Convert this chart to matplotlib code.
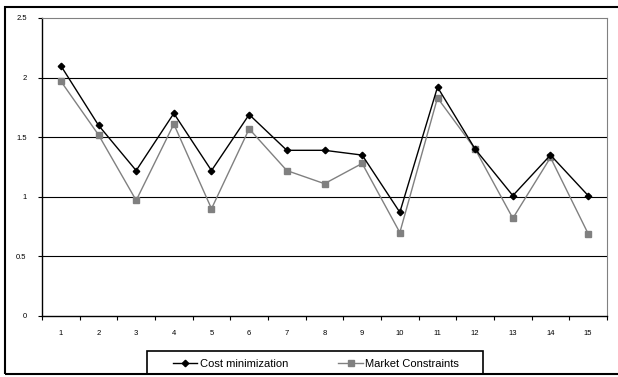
import matplotlib.pyplot as plt
from matplotlib.patches import Rectangle

# ---- Data ----------------------------------------------------------------
periods = list(range(1, 16))
cost_min = [2.10, 1.60, 1.22, 1.70, 1.22, 1.69, 1.39, 1.39, 1.35, 0.87,
            1.92, 1.40, 1.01, 1.35, 1.01]
market = [1.97, 1.52, 0.97, 1.61, 0.90, 1.57, 1.22, 1.11, 1.28, 0.70,
          1.83, 1.40, 0.82, 1.33, 0.69]
y_ticks = [0, 0.5, 1, 1.5, 2, 2.5]
y_labels = ["0", "0.5", "1", "1.5", "2", "2.5"]

plt.rcParams["font.family"] = ["Liberation Sans", "DejaVu Sans"]

W, H = 618, 377
fig = plt.figure(figsize=(W / 100, H / 100), dpi=100)
ax = fig.add_axes([42 / W, 1 - 316 / H, 565 / W, 298 / H])

# outer chart frame
fig.patches.append(Rectangle((5 / W, 3 / H), 1.0, 1 - 10 / H, transform=fig.transFigure,
                             fill=False, edgecolor="black", linewidth=1.5))

ax.plot(periods, cost_min, color="black", linewidth=1.0, marker="D",
        markersize=3.3, label="Cost minimization", zorder=4)
ax.plot(periods, market, color="#808080", linewidth=1.0, marker="s",
        markersize=3.8, label="Market Constraints", zorder=3)

ax.set_xlim(0.5, 15.5)
ax.set_ylim(0, 2.5)
ax.set_yticks(y_ticks)
ax.set_yticklabels(y_labels)
ax.set_xticks(periods)
ax.set_xticks([p + 0.5 for p in [0] + periods], minor=True)
ax.tick_params(axis="x", which="major", length=0, labelsize=5.5, pad=10)
ax.tick_params(axis="x", which="minor", length=3, direction="out", width=0.8)
ax.tick_params(axis="y", length=3, direction="out", labelsize=5.5, width=0.8, pad=8)

for y in y_ticks[1:-1]:
    ax.axhline(y, color="black", linewidth=0.8, zorder=1)

ax.spines["left"].set_linewidth(1.0)
ax.spines["bottom"].set_linewidth(1.0)
ax.spines["top"].set_color("#808080")
ax.spines["right"].set_color("#808080")

# legend box drawn separately so the inner spacing can be wider than tall
fig.patches.append(Rectangle((147 / W, 3 / H), 336 / W, 23 / H, transform=fig.transFigure,
                             fill=False, edgecolor="black", linewidth=1.2))
leg = fig.legend(loc="lower left", bbox_to_anchor=(168 / W, 3 / H, 296 / W, 23 / H),
                 mode="expand", ncol=2, fontsize=8, frameon=False,
                 handlelength=2.2, handletextpad=0.2, borderpad=0.45,
                 borderaxespad=0)

fig.savefig("out.png", dpi=100)
